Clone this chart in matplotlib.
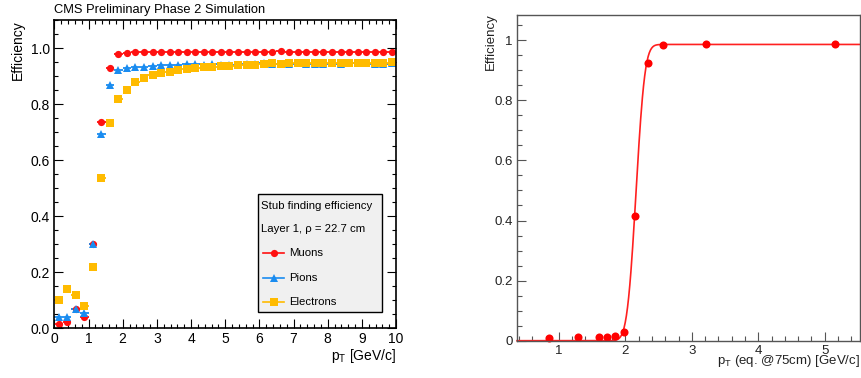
import math
import numpy as np
import matplotlib
matplotlib.use("Agg")
import matplotlib.pyplot as plt
from matplotlib.patches import Rectangle
from matplotlib.lines import Line2D
from matplotlib.ticker import MultipleLocator, FuncFormatter

plt.rcParams['font.family'] = ['Liberation Sans', 'DejaVu Sans']

# --- left panel: stub finding efficiency vs pT (bins of 0.25 GeV/c) ---
pt_bins = np.arange(0.125, 10.0, 0.25)
muons = [0.015, 0.022, 0.070, 0.040, 0.300, 0.737, 0.928, 0.978, 0.984, 0.985,
         0.986, 0.985, 0.986, 0.987, 0.986, 0.986, 0.985, 0.986, 0.987, 0.986,
         0.986, 0.987, 0.986, 0.986, 0.987, 0.986, 0.988, 0.986, 0.986, 0.987,
         0.986, 0.986, 0.987, 0.986, 0.987, 0.986, 0.986, 0.986, 0.987, 0.985]
pions = [0.040, 0.040, 0.070, 0.055, 0.300, 0.692, 0.869, 0.920, 0.929, 0.932,
         0.932, 0.935, 0.939, 0.939, 0.940, 0.943, 0.942, 0.941, 0.942, 0.940,
         0.940, 0.941, 0.942, 0.943, 0.945, 0.944, 0.944, 0.943, 0.945, 0.944,
         0.943, 0.944, 0.946, 0.944, 0.945, 0.946, 0.947, 0.944, 0.944, 0.945]
electrons = [0.100, 0.140, 0.120, 0.080, 0.218, 0.538, 0.733, 0.818, 0.852, 0.879,
             0.893, 0.903, 0.912, 0.916, 0.920, 0.925, 0.930, 0.934, 0.933, 0.936,
             0.937, 0.938, 0.938, 0.941, 0.944, 0.946, 0.944, 0.945, 0.946, 0.947,
             0.948, 0.947, 0.948, 0.948, 0.948, 0.947, 0.948, 0.946, 0.948, 0.950]
series_names = ["Muons", "Pions", "Electrons"]
series_colors = ["#ff1010", "#1a8cf0", "#ffbb00"]
series_markers = ["o", "^", "s"]
series_sizes = [5.2, 5.6, 5.2]

# --- right panel: efficiency vs pT (eq. @75cm) with erf fit ---
pt_eq = [0.85, 1.29, 1.61, 1.72, 1.84, 1.98, 2.14, 2.34, 2.57, 3.22, 5.16]
eff_eq = [0.010, 0.012, 0.012, 0.013, 0.014, 0.028, 0.415, 0.925, 0.985, 0.988, 0.988]
fit_plateau, fit_mean, fit_sigma = 0.986, 2.16, 0.105

fig = plt.figure(figsize=(8.61, 3.78), dpi=100)

# ---------------- left ----------------
ax = fig.add_axes([0.0631, 0.1315, 0.3969, 0.8155])
for vals, name, col, mk, sz in zip([muons, pions, electrons], series_names,
                                   series_colors, series_markers, series_sizes):
    ax.errorbar(pt_bins, vals, xerr=0.125, fmt=mk, color=col, ms=sz,
                elinewidth=1.3, capsize=0, mew=0)
ax.set_xlim(0, 10)
ax.set_ylim(0, 1.1)
ax.xaxis.set_major_locator(MultipleLocator(1))
ax.xaxis.set_minor_locator(MultipleLocator(0.2))
ax.yaxis.set_major_locator(MultipleLocator(0.2))
ax.yaxis.set_minor_locator(MultipleLocator(0.05))
ax.yaxis.set_major_formatter(FuncFormatter(lambda v, p: "%.1f" % v))
ax.tick_params(which='both', direction='in', top=True, right=True, labelsize=10, width=0.8)
ax.tick_params(which='major', length=6.5, pad=3)
ax.tick_params(which='minor', length=3.2)
for s in ax.spines.values():
    s.set_linewidth(1.2)

# legend box drawn by hand (ROOT style)
ax.add_patch(Rectangle((0.596, 0.053), 0.363, 0.383, transform=ax.transAxes,
                       facecolor='#f0f0f0', edgecolor='black', lw=1.0, zorder=5))
ax.text(0.605, 0.397, "Stub finding efficiency", transform=ax.transAxes,
        fontsize=8.2, va='center', zorder=6)
ax.text(0.605, 0.321, "Layer 1, ρ = 22.7 cm", transform=ax.transAxes,
        fontsize=8.2, va='center', zorder=6)
for yy, name, col, mk, sz in zip([0.243, 0.163, 0.086], series_names,
                                 series_colors, series_markers, series_sizes):
    ax.add_line(Line2D([0.611, 0.672], [yy, yy], transform=ax.transAxes,
                       color=col, lw=1.2, zorder=6))
    ax.add_line(Line2D([0.6415], [yy], transform=ax.transAxes, marker=mk,
                       color=col, ms=sz, mew=0, zorder=7))
    ax.text(0.687, yy, name, transform=ax.transAxes, fontsize=8.2,
            va='center', zorder=6)

fig.text(54 / 861, 1 - 10 / 378, "CMS Preliminary Phase 2 Simulation",
         fontsize=9.3, va='center', ha='left')
fig.text(17.5 / 861, 1 - 20 / 378, "Efficiency", rotation=90, fontsize=10,
         va='top', ha='center')
fig.text(396 / 861, 1 - 356 / 378, r"p$_\mathregular{T}$ [GeV/c]", fontsize=10,
         va='center', ha='right')

# ---------------- right ----------------
ax2 = fig.add_axes([0.6005, 0.0987, 0.3983, 0.8624])
xf = np.linspace(0.37, 5.53, 600)
yf = np.array([fit_plateau * 0.5 * (1 + math.erf((v - fit_mean) / (fit_sigma * math.sqrt(2))))
               for v in xf])
ax2.plot(xf, yf, color='#ff2020', lw=1.2, clip_on=False)
ax2.plot(pt_eq, eff_eq, 'o', color='#ff0000', ms=5.8, mew=0, clip_on=False)
ax2.set_xlim(0.37, 5.53)
ax2.set_ylim(0, 1.085)
ax2.xaxis.set_major_locator(MultipleLocator(1))
ax2.xaxis.set_minor_locator(MultipleLocator(0.2))
ax2.yaxis.set_major_locator(MultipleLocator(0.2))
ax2.yaxis.set_minor_locator(MultipleLocator(0.05))
ax2.yaxis.set_major_formatter(FuncFormatter(lambda v, p: "%g" % round(v, 2)))
ax2.tick_params(which='both', direction='in', labelsize=9.5, width=0.8,
                colors='#555555', labelcolor='#222222')
ax2.tick_params(which='major', length=6.5, pad=3)
ax2.tick_params(which='minor', length=3.5)
for s in ax2.spines.values():
    s.set_linewidth(1.0)
    s.set_color('#555555')

fig.text(491 / 861, 1 - 13 / 378, "Efficiency", rotation=90, fontsize=9.5,
         va='top', ha='center', color='#222222')
fig.text(860 / 861, 1 - 361 / 378, r"p$_\mathregular{T}$ (eq. @75cm) [GeV/c]",
         fontsize=9.5, va='center', ha='right', color='#222222')

fig.savefig("out.png", dpi=100)
